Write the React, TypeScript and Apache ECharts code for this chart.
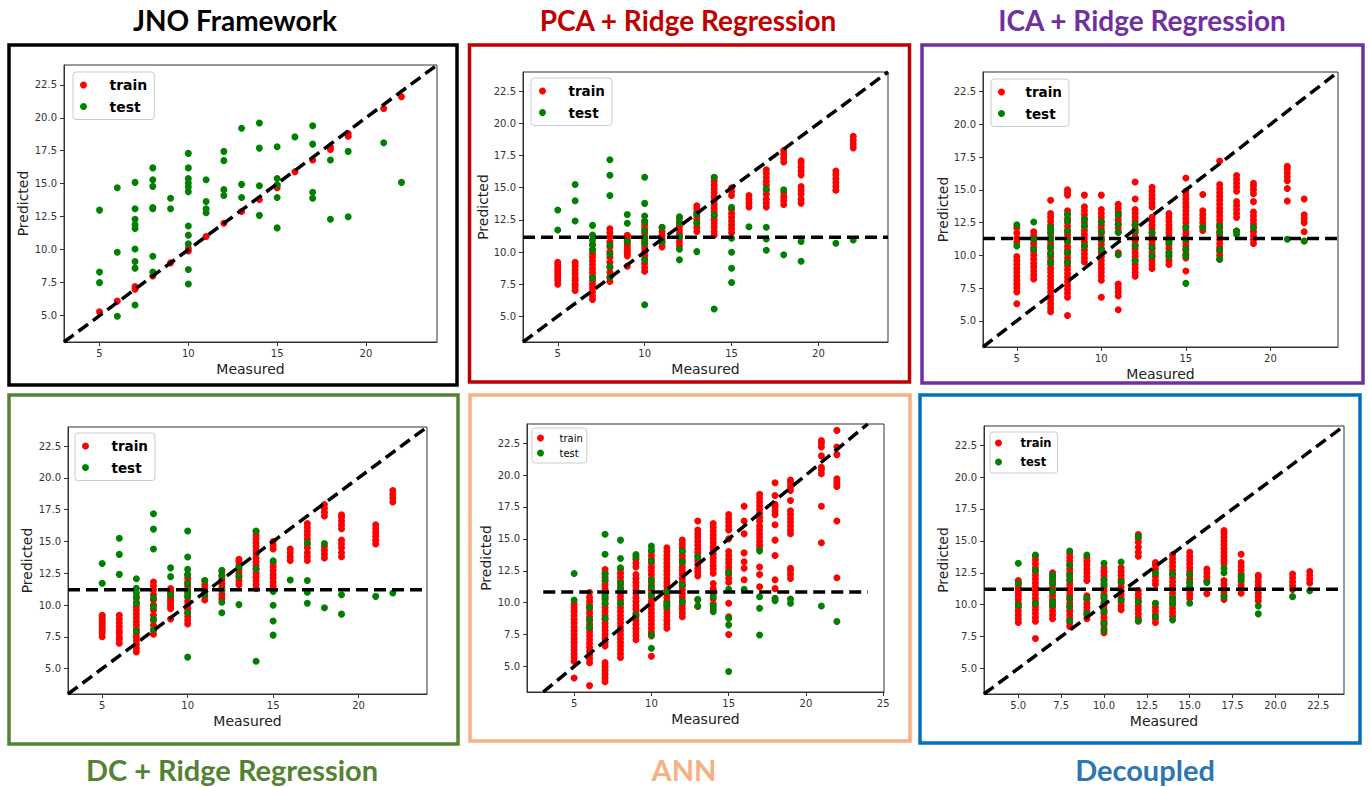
import React, { useEffect, useRef } from "react";
import * as echarts from "echarts";

type Col = [number, number[]];

// ---------- tick labels ----------
const xTicks = [5, 10, 15, 20];
const xTicksAnn = [5, 10, 15, 20, 25];
const xTicksDec = [5, 7.5, 10, 12.5, 15, 17.5, 20, 22.5];
const yTicks = [5, 7.5, 10, 12.5, 15, 17.5, 20, 22.5];

const titles = [
  "JNO Framework",
  "PCA + Ridge Regression",
  "ICA + Ridge Regression",
  "DC + Ridge Regression",
  "ANN",
  "Decoupled",
];
const titleColors = ["#000000", "#C00000", "#7030A0", "#548235", "#F4B183", "#2E75B6"];
const frameColors = ["#000000", "#C00000", "#7030A0", "#548235", "#F4B183", "#0070C0"];

// identity line endpoints and horizontal (mean) line levels
const diagLine = [3, 24];
const meanLevels = [null, 11.15, 11.28, 11.19, 10.84, 11.21];

// ---------- JNO Framework ----------
const jnoTrain: Col[] = [
  [5, [5.3]], [6, [6.1]], [7, [7.0, 7.2]], [8, [8.0]], [9, [9.0]], [10, [9.9, 10.1]],
  [11, [11.0]], [12, [12.0]], [13, [12.9]], [14, [13.8]], [15, [14.7, 14.9]], [16, [15.9]],
  [17, [16.8]], [18, [17.6, 17.8]], [19, [18.6, 18.8]], [21, [20.7]], [22, [21.6]],
];
const jnoTest: Col[] = [
  [5, [13.0, 8.3, 7.5]],
  [6, [14.7, 9.8, 4.95]],
  [7, [15.1, 13.1, 12.3, 11.9, 11.6, 10.05, 9.1, 8.6, 5.8]],
  [8, [16.2, 15.3, 14.8, 13.2, 13.1, 9.5, 8.3]],
  [9, [13.9, 13.1]],
  [10, [17.3, 16.2, 15.4, 15.05, 14.75, 14.4, 11.8, 11.1, 10.45, 8.5, 7.4]],
  [11, [15.3, 13.65, 13.1, 12.8]],
  [12, [17.45, 16.75, 14.55, 14.1]],
  [13, [19.2, 14.95, 13.95]],
  [14, [19.6, 17.7, 14.85, 12.6]],
  [15, [17.8, 15.4, 14.9, 13.95, 11.65]],
  [16, [18.55]],
  [17, [19.4, 18.0, 14.35, 13.9]],
  [18, [16.8, 12.3]],
  [19, [17.45, 12.5]],
  [21, [18.1]],
  [22, [15.1]],
];

// ---------- PCA + Ridge ----------
const pcaTrain: Col[] = [
  [5, [7.5, 7.8, 8.0, 8.2, 8.4, 8.6, 8.8, 9.0, 9.2]],
  [6, [7.0, 7.3, 7.5, 7.8, 8.0, 8.3, 8.6, 8.9, 9.2]],
  [7, [6.3, 6.6, 6.9, 7.2, 7.5, 7.8, 8.1, 8.4, 8.7, 9.0, 9.3, 9.6, 9.9, 10.2, 10.6]],
  [8, [7.7, 8.0, 8.4, 8.8, 9.2, 9.6, 10.0, 10.4, 10.8, 11.2, 11.5, 11.8]],
  [9, [8.9, 9.7, 9.9, 10.1, 10.3, 10.5, 10.7, 10.9, 11.1, 11.3]],
  [10, [8.5, 8.8, 9.1, 9.4, 9.7, 10.0, 10.3, 10.6, 10.9, 11.2, 11.5, 11.8, 12.1, 12.4]],
  [11, [10.4, 10.7, 11.0, 11.3, 11.6, 11.9]],
  [12, [10.5, 10.8, 11.1, 11.4, 11.7, 12.0, 12.3, 12.6]],
  [13, [11.6, 11.9, 12.2, 12.5, 12.8, 13.1, 13.4, 13.6]],
  [14, [11.3, 11.6, 11.9, 12.2, 12.5, 12.8, 13.1, 13.4, 13.7, 14.0, 14.3, 14.6, 14.9, 15.2, 15.5, 15.8]],
  [15, [11.5, 11.8, 12.1, 12.4, 12.7, 13.0, 13.3, 14.4, 14.7, 15.0]],
  [16, [13.5, 13.8, 14.1, 14.4]],
  [17, [13.5, 13.8, 14.1, 14.5, 14.8, 15.2, 15.5, 15.8, 16.1, 16.4]],
  [18, [13.7, 14.0, 14.3, 14.6, 17.0, 17.3, 17.6, 17.9]],
  [19, [13.8, 14.1, 14.5, 14.8, 15.1, 16.0, 16.3, 16.6, 16.9, 17.1]],
  [21, [14.8, 15.1, 15.4, 15.7, 16.0, 16.3]],
  [22, [18.1, 18.4, 18.7, 19.0]],
];
const pcaTest: Col[] = [
  [5, [13.26, 11.71]],
  [6, [15.25, 13.98, 12.41]],
  [7, [12.07, 11.32, 10.94, 10.55, 10.16, 7.97]],
  [8, [17.18, 15.97, 14.4, 10.55, 9.85, 8.87, 8.05]],
  [9, [12.92, 12.23, 10.81]],
  [10, [15.82, 13.78, 12.8, 12.36, 11.66, 11.07, 10.68, 9.39, 5.9]],
  [11, [11.92, 10.81]],
  [12, [12.74, 12.28, 11.2, 10.21, 9.39]],
  [13, [12.95, 12.28, 10.03]],
  [14, [15.82, 12.87, 5.57]],
  [15, [13.47, 11.07, 9.98, 8.74, 7.63]],
  [16, [11.97]],
  [17, [14.89, 11.92, 11.01, 10.14]],
  [18, [14.83, 9.78]],
  [19, [10.81, 9.28]],
  [21, [10.68]],
  [22, [10.94]],
];

// ---------- ICA + Ridge ----------
const icaTrain: Col[] = [
  [5, [6.3, 7.2, 7.5, 7.8, 8.1, 8.4, 8.7, 9.0, 9.3, 9.6, 9.9, 11.0, 11.3, 11.7, 12.1]],
  [6, [8.2, 8.5, 8.8, 9.1, 9.4, 9.7, 10.0, 10.3, 10.6, 10.9, 11.2, 11.5, 11.8]],
  [7, [5.7, 6.0, 6.3, 6.6, 6.9, 7.2, 7.5, 7.8, 8.1, 8.4, 8.7, 9.0, 9.3, 9.6, 9.9, 10.2, 10.5, 10.8, 11.1, 11.4, 11.7, 12.0, 12.3, 12.6, 12.9, 13.2, 14.2]],
  [8, [5.4, 6.8, 7.1, 7.4, 7.7, 8.0, 8.3, 8.6, 8.9, 9.2, 9.5, 9.8, 10.1, 10.4, 10.7, 11.0, 11.3, 11.6, 11.9, 12.2, 12.5, 12.8, 13.1, 13.4, 14.6, 14.8, 15.0]],
  [9, [9.5, 9.8, 10.1, 10.4, 10.7, 11.0, 11.3, 11.6, 11.9, 12.2, 12.5, 12.8, 13.1, 13.4, 13.7, 14.6]],
  [10, [6.8, 8.1, 8.4, 8.7, 9.0, 9.3, 9.6, 9.9, 10.2, 10.5, 10.8, 11.1, 11.4, 11.7, 12.0, 12.3, 12.6, 12.9, 13.2, 13.5, 14.6]],
  [11, [5.85, 6.9, 7.2, 7.5, 7.8, 10.2, 11.8, 12.1, 12.4, 12.7, 13.0, 13.3, 13.6, 13.9]],
  [12, [8.4, 8.7, 9.0, 9.3, 9.6, 9.9, 10.2, 10.5, 10.8, 11.1, 11.4, 11.7, 12.0, 12.3, 12.6, 12.9, 13.2, 13.5, 14.3, 15.6]],
  [13, [9.0, 9.3, 9.6, 9.9, 10.2, 10.5, 10.8, 11.1, 11.4, 11.7, 12.0, 12.3, 12.6, 12.9, 13.7, 14.0, 14.3, 14.6, 14.9, 15.2]],
  [14, [9.3, 9.6, 9.9, 10.2, 10.5, 10.8, 11.1, 11.4, 11.7, 12.0, 12.3, 12.6, 12.9, 13.2]],
  [15, [8.8, 9.8, 10.1, 10.4, 10.7, 11.0, 11.3, 11.6, 11.9, 12.2, 12.5, 12.8, 13.1, 13.4, 13.7, 14.0, 14.3, 14.6, 14.9, 15.9]],
  [16, [11.9, 12.2, 12.5, 12.8, 13.1, 13.4, 14.65]],
  [17, [9.7, 10.0, 10.3, 10.6, 10.9, 11.2, 11.5, 11.8, 12.1, 12.4, 12.7, 13.0, 13.3, 13.6, 13.9, 14.2, 14.5, 14.8, 15.1, 15.4, 17.2]],
  [18, [11.86, 12.9, 13.2, 13.5, 13.8, 14.1, 14.9, 15.2, 15.5, 15.8, 16.1]],
  [19, [10.9, 11.2, 11.5, 11.8, 12.1, 12.4, 12.7, 13.0, 13.3, 14.1, 14.7, 15.0, 15.3, 15.5]],
  [21, [14.15, 15.1, 15.7, 16.0, 16.3, 16.6, 16.8]],
  [22, [11.1, 11.8, 12.5, 12.8, 13.1, 14.3]],
];
const icaTest: Col[] = [
  [5, [12.34, 10.72]],
  [6, [12.55, 11.23, 10.47]],
  [7, [12.12, 11.74, 11.23, 10.6, 10.09, 9.46]],
  [8, [13.13, 12.62, 11.86, 11.1, 10.22, 9.46]],
  [9, [12.75, 12.24, 10.72]],
  [10, [12.55, 11.79, 11.23, 10.47]],
  [11, [13.13, 12.37, 11.74, 10.04]],
  [12, [12.37, 11.86, 10.72, 9.58]],
  [13, [11.74, 10.6, 9.96]],
  [14, [11.23, 10.98, 10.22, 9.96]],
  [15, [12.12, 11.23, 10.47, 9.96, 7.86]],
  [16, [12.12]],
  [17, [12.24, 11.74, 10.42, 9.71]],
  [18, [11.86, 11.61]],
  [19, [12.12]],
  [21, [11.23]],
  [22, [11.1]],
];

// ---------- DC + Ridge (the panel shows the same points as PCA + Ridge) ----------
const dcTrain: Col[] = pcaTrain;
const dcTest: Col[] = pcaTest;

// ---------- ANN ----------
const annTrain: Col[] = [
  [5, [4.1, 5.4, 5.7, 6.0, 6.3, 6.6, 6.9, 7.2, 7.5, 7.8, 8.1, 8.4, 8.7, 9.0, 9.3, 9.6, 9.9]],
  [6, [3.5, 5.3, 5.6, 5.9, 6.2, 6.5, 6.8, 7.1, 7.4, 7.7, 8.0, 8.3, 8.6, 8.9, 9.2, 9.5, 9.8, 10.1, 10.4, 10.8]],
  [7, [3.8, 4.1, 4.4, 4.7, 5.0, 5.3, 6.6, 6.9, 7.2, 7.5, 7.8, 8.1, 8.4, 8.7, 9.0, 9.3, 9.6, 9.9, 10.2, 10.5, 10.8, 11.1, 11.4, 11.7, 12.0, 12.3, 12.6]],
  [8, [5.7, 6.0, 6.3, 6.6, 6.9, 7.2, 7.5, 7.8, 8.1, 8.4, 8.7, 9.0, 9.3, 9.6, 9.9, 10.2, 10.5, 10.8, 11.1, 11.4, 11.7, 12.0, 12.3, 12.6]],
  [9, [7.1, 7.4, 7.7, 8.0, 8.3, 8.6, 8.9, 9.2, 9.5, 9.8, 10.1, 10.4, 10.7, 11.0, 11.3, 11.6, 11.9, 12.2, 12.8, 13.1, 13.4]],
  [10, [5.8, 7.4, 7.7, 8.0, 8.3, 8.6, 8.9, 9.2, 9.5, 9.8, 10.1, 10.4, 10.7, 11.0, 11.3, 11.6, 11.9, 12.2, 12.5, 12.8, 13.1, 13.4, 13.7, 14.0]],
  [11, [8.0, 8.3, 8.6, 8.9, 9.2, 9.5, 9.8, 10.1, 10.4, 10.7, 11.0, 11.3, 11.6, 11.9, 12.2, 12.5, 12.8, 13.1, 13.4, 13.7, 14.0, 14.3]],
  [12, [8.9, 9.2, 9.5, 9.8, 10.1, 10.4, 10.7, 11.0, 11.3, 11.6, 11.9, 12.2, 12.5, 12.8, 13.1, 13.4, 13.7, 14.0, 14.3, 14.6, 14.9]],
  [13, [9.7, 10.2, 12.1, 12.4, 12.7, 13.0, 13.3, 13.6, 13.9, 14.2, 14.5, 14.8, 15.1, 15.4, 15.7, 16.4]],
  [14, [9.5, 9.9, 10.3, 10.7, 11.1, 11.5, 12.3, 12.6, 12.9, 13.2, 13.5, 13.8, 14.1, 14.4, 14.7, 15.0, 15.3, 15.6, 15.9, 16.2]],
  [15, [7.5, 8.9, 9.95, 11.6, 11.9, 12.2, 12.5, 12.8, 13.1, 13.4, 13.7, 14.0, 15.0, 15.7, 16.0, 16.3, 16.6, 16.9]],
  [16, [11.8, 12.7, 13.2, 13.9, 15.4, 16.4, 17.55]],
  [17, [11.25, 12.2, 12.8, 14.2, 14.5, 14.8, 15.1, 15.4, 15.7, 16.0, 16.4, 16.7, 17.0, 17.3, 17.6, 17.9, 18.2, 18.5]],
  [18, [11.1, 11.8, 13.7, 14.9, 16.1, 16.9, 17.2, 17.5, 17.7, 18.4, 19.4]],
  [19, [11.9, 12.2, 12.5, 12.7, 15.4, 15.7, 16.0, 16.3, 16.6, 16.9, 17.2, 18.0, 18.8, 19.1, 19.4, 19.6]],
  [21, [14.7, 17.55, 20.1, 20.4, 20.6, 21.5, 22.2, 22.5, 22.7]],
  [22, [11.95, 16.4, 19.1, 19.3, 19.5, 19.7, 21.6, 22.2, 23.5]],
];
const annTest: Col[] = [
  [5, [12.29, 10.21]],
  [6, [9.64, 8.65, 8.07]],
  [7, [15.36, 13.8, 12.24, 11.77, 10.68, 10.34, 9.95, 8.78]],
  [8, [14.9, 13.46, 12.73, 11.56, 11.12, 9.95]],
  [9, [13.78, 13.59, 9.04]],
  [10, [14.43, 14.11, 13.28, 11.77, 11.25, 10.6, 7.47, 6.43]],
  [11, [10.86, 9.95, 9.69]],
  [12, [14.04, 13.2, 11.38, 10.08]],
  [13, [13.59, 10.26, 9.74]],
  [14, [10.47, 9.74, 9.3]],
  [15, [12.34, 11.04, 8.78, 8.26, 4.61]],
  [16, [11.04]],
  [17, [14.06, 10.47, 9.56, 7.47]],
  [18, [10.34, 10.16]],
  [19, [10.29, 9.95]],
  [21, [9.74]],
  [22, [8.52]],
];

// ---------- Decoupled ----------
const decTrain: Col[] = [
  [5, [8.6, 8.9, 9.2, 9.5, 9.8, 10.1, 10.4, 10.7, 11.0, 11.3, 11.6, 11.9]],
  [6, [7.35, 8.7, 9.0, 9.3, 9.6, 9.9, 10.2, 10.5, 10.8, 11.1, 11.4, 11.7, 12.0, 12.3, 12.6, 12.9, 13.2, 13.5, 13.8]],
  [7, [8.9, 9.2, 9.5, 9.8, 10.1, 10.4, 10.7, 11.0, 11.3, 11.6, 11.9, 12.2, 12.5]],
  [8, [8.3, 8.6, 8.9, 9.2, 9.5, 9.8, 10.1, 10.4, 10.7, 11.0, 11.3, 11.6, 11.9, 12.2, 12.5, 12.8, 13.1, 13.4, 13.7, 14.0]],
  [9, [8.9, 9.2, 9.5, 9.8, 10.1, 10.4, 10.7, 11.9, 12.2, 12.5, 12.8, 13.1, 13.4, 13.7]],
  [10, [7.8, 8.1, 8.4, 8.7, 9.0, 9.3, 9.6, 9.9, 10.2, 10.5, 10.8, 11.1, 11.4, 11.7, 12.0, 12.3, 12.6, 12.9]],
  [11, [9.6, 9.9, 10.2, 10.5, 10.8, 11.1, 11.4, 11.7, 12.0, 12.3, 12.6, 12.9]],
  [12, [8.7, 9.0, 9.3, 9.6, 9.9, 10.2, 10.5, 10.8, 11.1, 13.8, 14.1, 14.5, 14.9, 15.2, 15.5]],
  [13, [8.6, 8.9, 9.2, 9.5, 9.8, 10.1, 11.6, 11.9, 12.2, 12.5, 12.8, 13.1, 13.3]],
  [14, [9.1, 9.4, 9.7, 10.0, 10.3, 10.6, 10.9, 11.2, 11.5, 11.8, 12.1, 12.4, 12.7, 13.0, 13.3, 13.6, 13.9]],
  [15, [10.5, 10.8, 11.1, 11.4, 11.7, 12.0, 12.3, 12.6, 12.9, 13.2, 13.5, 13.8, 14.1]],
  [16, [10.85, 11.9, 12.2, 12.5, 12.8]],
  [17, [10.4, 10.7, 11.0, 11.3, 11.6, 11.9, 13.2, 13.5, 13.8, 14.1, 14.4, 14.7, 15.0, 15.3, 15.6, 15.8]],
  [18, [10.9, 11.2, 11.5, 11.8, 12.1, 12.4, 12.7, 13.0, 13.3, 13.95]],
  [19, [10.3, 10.6, 10.9, 11.2, 11.5, 11.8, 12.1, 12.3]],
  [21, [11.2, 11.5, 11.8, 12.1, 12.4]],
  [22, [11.7, 12.0, 12.3, 12.6]],
];
const decTest: Col[] = [
  [5, [13.24, 11.68, 9.98]],
  [6, [13.89, 12.67, 10.11]],
  [7, [12.33, 12.07, 11.68, 11.03, 10.24, 9.98]],
  [8, [14.21, 13.11, 12.33, 11.94, 10.5, 9.85, 8.76]],
  [9, [13.89, 10.5, 9.33]],
  [10, [13.24, 11.94, 11.55, 10.63, 10.11, 9.46, 8.55, 7.97]],
  [11, [13.35, 11.81, 10.37]],
  [12, [15.33, 10.24, 8.76]],
  [13, [12.46, 10.11, 9.07]],
  [14, [12.41, 10.5, 10.11, 8.81]],
  [15, [12.38, 11.73, 11.42, 10.11]],
  [16, [11.73]],
  [17, [12.85, 12.51, 10.63]],
  [18, [12.25, 11.94]],
  [19, [9.9, 9.28]],
  [21, [10.63]],
  [22, [11.1]],
];

const trainSets = [jnoTrain, pcaTrain, icaTrain, dcTrain, annTrain, decTrain];
const testSets = [jnoTest, pcaTest, icaTest, dcTest, annTest, decTest];

// ---------- layout (positions / styles only) ----------
const grids = [
  { left: 64, top: 65, width: 373, height: 277 },
  { left: 523, top: 72, width: 365, height: 270 },
  { left: 983, top: 72, width: 355, height: 275 },
  { left: 68, top: 427, width: 359, height: 267 },
  { left: 527, top: 424, width: 357, height: 268 },
  { left: 984, top: 426, width: 360, height: 268 },
];
const frames = [
  [9, 45, 448, 340],
  [469.5, 45, 440, 337],
  [922, 45, 441, 338],
  [9, 395, 449, 349],
  [470, 395, 440, 346],
  [920, 395, 440, 348],
];
const titlePos = [
  [235, 20, 28],
  [688, 20, 28],
  [1142, 20, 28],
  [232, 769, 29],
  [684, 769, 29],
  [1145, 769, 29],
];
const legends = [
  { left: 73, top: 72, fs: 14, bold: true, pad: [5, 7, 5, 7], iw: 24, ih: 7, tp: 9, lh: 16, gap: 5.5 },
  { left: 531, top: 78, fs: 13.5, bold: true, pad: [5, 7, 5, 8], iw: 24, ih: 7, tp: 9, lh: 16, gap: 5.5 },
  { left: 991, top: 79, fs: 13.5, bold: true, pad: [5, 7, 5, 7], iw: 24, ih: 7, tp: 7, lh: 16, gap: 5.5 },
  { left: 75, top: 433, fs: 13.5, bold: true, pad: [5, 7, 5, 7], iw: 24, ih: 7, tp: 9, lh: 16, gap: 5.5 },
  { left: 532, top: 428, fs: 10, bold: false, pad: [4, 4, 4, 5], iw: 16, ih: 7, tp: 6, lh: 12, gap: 3 },
  { left: 990, top: 432, fs: 11.5, bold: true, pad: [4, 6, 4, 5], iw: 24, ih: 7, tp: 5, lh: 14, gap: 5 },
];
const yNameGaps = [34, 33, 33, 34, 34, 34];

const FONT = "DejaVu Sans";
const AX = "#333333";

function points(cols: Col[]): number[][] {
  return cols.flatMap(([x, ys]) => ys.map((y) => [x, y]));
}

function buildOption() {
  const xAxis: any[] = [];
  const yAxis: any[] = [];
  const series: any[] = [];
  const legend: any[] = [];
  const graphic: any[] = [];

  grids.forEach((g, i) => {
    const isAnn = i === 4;
    const isDec = i === 5;
    const xt = isAnn ? xTicksAnn : isDec ? xTicksDec : xTicks;
    xAxis.push({
      type: "value",
      gridIndex: i,
      min: isAnn ? 1.95 : diagLine[0],
      max: isAnn ? 25.05 : diagLine[1],
      splitLine: { show: false },
      axisLine: { show: true, onZero: false, lineStyle: { color: AX, width: 1 } },
      axisTick: { show: true, customValues: xt, length: 4, lineStyle: { color: AX } },
      axisLabel: {
        customValues: xt,
        formatter: (v: number) => (isDec ? v.toFixed(1) : String(v)),
        fontSize: 10,
        color: AX,
        fontFamily: FONT,
        margin: 6,
      },
      name: "Measured",
      nameLocation: "middle",
      nameGap: 20,
      nameTextStyle: { fontSize: 14, color: "#222", fontFamily: FONT },
    });
    yAxis.push({
      type: "value",
      gridIndex: i,
      min: diagLine[0],
      max: diagLine[1],
      splitLine: { show: false },
      axisLine: { show: true, onZero: false, lineStyle: { color: AX, width: 1 } },
      axisTick: { show: true, customValues: yTicks, length: 4, lineStyle: { color: AX } },
      axisLabel: {
        customValues: yTicks,
        formatter: (v: number) => v.toFixed(1),
        fontSize: 10,
        color: AX,
        fontFamily: FONT,
        margin: 7,
      },
      name: "Predicted",
      nameLocation: "middle",
      nameGap: yNameGaps[i],
      nameTextStyle: { fontSize: 14, color: "#222", fontFamily: FONT },
    });

    series.push({
      type: "scatter",
      name: "train",
      xAxisIndex: i,
      yAxisIndex: i,
      data: points(trainSets[i]),
      symbol: "circle",
      symbolSize: 7,
      itemStyle: { color: "#ff0000", opacity: 1 },
      z: 2,
      silent: true,
    });
    series.push({
      type: "scatter",
      name: "test",
      xAxisIndex: i,
      yAxisIndex: i,
      data: points(testSets[i]),
      symbol: "circle",
      symbolSize: 7,
      itemStyle: { color: "#008000", opacity: 1 },
      z: 3,
      silent: true,
    });
    series.push({
      type: "line",
      name: "identity",
      xAxisIndex: i,
      yAxisIndex: i,
      data: [
        [diagLine[0], diagLine[0]],
        [diagLine[1], diagLine[1]],
      ],
      showSymbol: false,
      symbol: "none",
      lineStyle: { color: "#000", width: 3.5, type: [12, 6] },
      z: 4,
      silent: true,
    });
    const m = meanLevels[i];
    if (m !== null) {
      series.push({
        type: "line",
        name: "mean",
        xAxisIndex: i,
        yAxisIndex: i,
        data: [
          [diagLine[0], m],
          [diagLine[1], m],
        ],
        showSymbol: false,
        symbol: "none",
        lineStyle: { color: "#000", width: 3.5, type: [12, 6] },
        z: 4,
        silent: true,
      });
    }

    const L = legends[i];
    legend.push({
      data: ["train", "test"],
      orient: "vertical",
      left: L.left,
      top: L.top,
      icon: "circle",
      itemWidth: L.iw,
      itemHeight: L.ih,
      itemGap: L.gap,
      padding: L.pad,
      borderColor: "#cccccc",
      borderWidth: 1,
      borderRadius: 3,
      backgroundColor: "rgba(255,255,255,0.85)",
      selectedMode: false,
      itemStyle: { opacity: 1 },
      textStyle: {
        fontFamily: FONT,
        fontSize: L.fs,
        fontWeight: L.bold ? "bold" : "normal",
        color: "#000",
        lineHeight: L.lh,
        padding: [0, 0, 0, L.tp],
      },
    });

    const f = frames[i];
    graphic.push({
      type: "rect",
      shape: { x: f[0], y: f[1], width: f[2], height: f[3] },
      style: { fill: "none", stroke: frameColors[i], lineWidth: 3.5 },
      silent: true,
      z: 0,
    });
    const t = titlePos[i];
    graphic.push({
      type: "text",
      x: t[0],
      y: t[1],
      style: {
        text: titles[i],
        fill: titleColors[i],
        font: `bold ${t[2]}px Lato`,
        fontSize: t[2],
        fontWeight: "bold",
        fontFamily: "Lato",
        align: "center",
        verticalAlign: "middle",
        textAlign: "center",
        textVerticalAlign: "middle",
      },
      silent: true,
    });
  });

  return {
    animation: false,
    backgroundColor: "#ffffff",
    grid: grids.map((g) => ({
      ...g,
      show: true,
      borderColor: AX,
      borderWidth: 1,
      backgroundColor: "transparent",
      containLabel: false,
    })),
    xAxis,
    yAxis,
    series,
    legend,
    graphic,
  };
}

export default function App() {
  const ref = useRef<HTMLDivElement>(null);
  useEffect(() => {
    if (!ref.current) return;
    const chart = echarts.init(ref.current, null, { renderer: "svg" });
    chart.setOption(buildOption() as any);
    return () => chart.dispose();
  }, []);
  return (
    <div
      ref={ref}
      style={{ position: "fixed", left: 0, top: 0, width: 1370, height: 787, background: "#fff" }}
    />
  );
}
